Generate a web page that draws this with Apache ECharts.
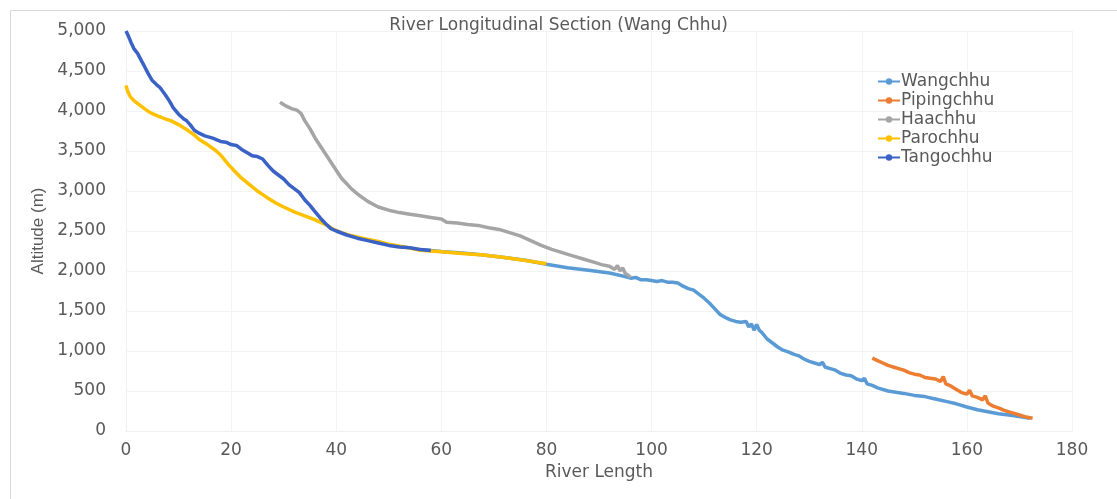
<!DOCTYPE html>
<html>
<head>
<meta charset="utf-8">
<script src="https://cdn.jsdelivr.net/npm/echarts@6/dist/echarts.min.js"></script>
<style>
  html, body { margin: 0; padding: 0; background: #fff; }
  #chart { width: 1117px; height: 499px; }
</style>
</head>
<body>
<div id="chart"></div>
<script>
// data: [river length (km), altitude (m)]
const wangchhu = [[56,2270],[60,2245],[64,2225],[68,2200],[72,2170],[76,2135],[80,2085],[84,2040],[88,2010],[92,1975],[95,1930],[96,1910],[97,1920],[98,1890],[99,1890],[100,1880],[101,1870],[102,1880],[103,1860],[104,1860],[105,1850],[106,1810],[107,1780],[108,1760],[109,1710],[110,1660],[111,1600],[112,1530],[113,1460],[114,1420],[115,1390],[116,1370],[117,1360],[118,1370],[118.5,1300],[119,1340],[119.5,1260],[120,1330],[120.5,1260],[121,1230],[122,1150],[123,1100],[124,1050],[125,1010],[126,990],[127,960],[128,940],[129,900],[130,870],[131,850],[132,830],[132.5,860],[133,800],[134,780],[135,760],[136,720],[137,700],[138,690],[139,650],[140,630],[140.5,660],[141,590],[142,570],[143,540],[145,500],[148,470],[150,445],[152,430],[154,400],[156,370],[158,340],[160,300],[162,265],[164,240],[166,215],[168,200],[170,180],[172,160]]
const pipingchhu = [[142,910],[143,880],[144,850],[145,820],[146,800],[147,780],[148,760],[149,730],[150,710],[151,700],[152,670],[153,660],[154,650],[155,620],[155.5,680],[156,590],[157,560],[158,520],[159,480],[160,460],[160.5,510],[161,440],[162,420],[163,390],[163.5,440],[164,350],[165,310],[166,290],[167,260],[168,240],[169,220],[170,200],[171,180],[172.5,160]]
const haachhu = [[29.3,4110],[30.5,4060],[31.5,4030],[32.5,4010],[33.3,3970],[34,3880],[35,3780],[36,3660],[37,3560],[38,3460],[39,3360],[40,3260],[41,3160],[42,3090],[43,3020],[44.5,2940],[46,2870],[48,2800],[50,2760],[52,2730],[54,2710],[56,2690],[58,2670],[60,2650],[61,2610],[63,2600],[65,2580],[67,2570],[69,2540],[71,2520],[73,2480],[75,2440],[77,2380],[79,2320],[81,2270],[83,2230],[85,2190],[87,2150],[89,2110],[90.5,2080],[92,2060],[93,2020],[93.5,2070],[94,2000],[94.5,2040],[95,1970],[95.5,1950],[96,1920]]
const parochhu = [[0,4320],[0.3,4250],[0.8,4180],[1.5,4130],[2.5,4080],[3.5,4030],[4.6,3980],[6,3940],[7.5,3900],[8.5,3880],[10,3830],[11.5,3770],[13,3700],[14,3640],[15.5,3580],[17,3510],[18,3450],[19.5,3330],[20.5,3260],[22,3160],[23.5,3080],[25,3000],[26.8,2920],[28.5,2850],[30,2800],[32,2740],[34,2690],[36,2640],[38,2580],[39.5,2520],[41,2480],[43,2440],[45,2410],[48,2370],[50,2335],[53,2300],[56,2260],[60,2240],[64,2220],[68,2200],[72,2170],[76,2130],[80,2090]]
const tangochhu = [[0,5000],[0.5,4930],[1,4850],[1.5,4780],[2.2,4720],[3,4620],[3.5,4560],[4.2,4470],[5,4380],[5.8,4330],[6.5,4290],[7.5,4200],[8.3,4120],[9,4040],[10,3960],[11,3900],[11.5,3880],[12.2,3830],[13,3760],[14,3720],[15,3690],[16.5,3660],[18,3620],[19,3610],[20,3580],[21,3570],[22,3520],[23,3480],[24,3440],[25,3430],[26,3400],[27,3320],[28,3250],[29,3200],[30,3150],[31,3080],[32,3030],[33,2980],[34,2890],[35,2820],[36,2740],[37,2660],[38,2590],[39,2530],[40,2500],[42,2450],[44,2410],[46,2380],[48,2350],[50,2320],[52,2300],[54,2290],[56,2270],[58,2255]]

const seriesNames = ['Wangchhu', 'Pipingchhu', 'Haachhu', 'Parochhu', 'Tangochhu']
const seriesData = [wangchhu, pipingchhu, haachhu, parochhu, tangochhu]
const seriesColors = ['#5B9BD5', '#ED7D31', '#A5A5A5', '#FFC000', '#3A62C6']

const chart = echarts.init(document.getElementById('chart'))
const textColor = '#595959'

const option = {
  animation: false,
  backgroundColor: '#fff',
  title: {
    text: 'River Longitudinal Section (Wang Chhu)',
    left: 'center',
    top: 12,
    textStyle: { fontFamily: 'DejaVu Sans', fontSize: 17, fontWeight: 'normal', color: textColor }
  },
  legend: {
    orient: 'vertical',
    left: 872,
    top: 68,
    itemGap: 2,
    itemWidth: 22,
    itemHeight: 8,
    textStyle: { fontFamily: 'DejaVu Sans', fontSize: 17, color: textColor, padding: [0, 0, 0, -4] },
    data: seriesNames
  },
  grid: { left: 126, right: 45, top: 31, bottom: 68 },
  xAxis: {
    type: 'value',
    min: 0,
    max: 180,
    interval: 20,
    name: 'River Length',
    nameLocation: 'middle',
    nameGap: 30,
    nameTextStyle: { fontFamily: 'DejaVu Sans', fontSize: 17, color: textColor },
    axisLine: { show: true, lineStyle: { color: '#f0f0f0' } },
    axisTick: { show: false },
    axisLabel: { fontFamily: 'DejaVu Sans', fontSize: 17, color: textColor, margin: 11 },
    splitLine: { show: true, lineStyle: { color: '#f3f3f3' } }
  },
  yAxis: {
    type: 'value',
    min: 0,
    max: 5000,
    interval: 500,
    name: 'Altitude (m)',
    nameLocation: 'middle',
    nameGap: 77,
    nameTextStyle: { fontFamily: 'Liberation Sans Narrow, Liberation Sans', fontSize: 17, color: textColor },
    axisLine: { show: true, lineStyle: { color: '#f0f0f0' } },
    axisTick: { show: false },
    axisLabel: {
      fontFamily: 'DejaVu Sans', fontSize: 17, color: textColor, margin: 20,
      formatter: (v) => v.toLocaleString('en-US')
    },
    splitLine: { show: true, lineStyle: { color: '#f3f3f3' } }
  },
  graphic: [{
    type: 'rect',
    left: 8,
    top: 8,
    shape: { width: 1120, height: 500 },
    style: { fill: 'none', stroke: '#d9d9d9', lineWidth: 1 },
    silent: true
  }],
  series: seriesNames.map((name, i) => ({
    name: name,
    type: 'line',
    data: seriesData[i],
    symbol: 'circle',
    symbolSize: 4,
    showSymbol: false,
    lineStyle: { width: 3.5, color: seriesColors[i] },
    itemStyle: { color: seriesColors[i] }
  }))
}

chart.setOption(option)
</script>
</body>
</html>
